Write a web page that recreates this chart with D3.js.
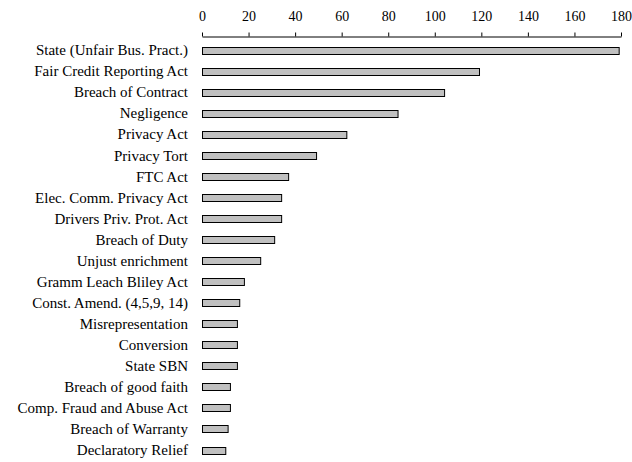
<!DOCTYPE html>
<html>
<head>
<meta charset="utf-8">
<script src="https://cdn.jsdelivr.net/npm/d3@7"></script>
<style>
  body { margin: 0; background: #fff; }
  text { font-family: "Liberation Serif", "Times New Roman", serif; font-size: 15px; fill: #000; }
</style>
</head>
<body>
<div id="chart"></div>
<script>
// claims, largest first
var categories = [
    "State (Unfair Bus. Pract.)", "Fair Credit Reporting Act", "Breach of Contract",
    "Negligence", "Privacy Act", "Privacy Tort", "FTC Act", "Elec. Comm. Privacy Act",
    "Drivers Priv. Prot. Act", "Breach of Duty", "Unjust enrichment", "Gramm Leach Bliley Act",
    "Const. Amend. (4,5,9, 14)", "Misrepresentation", "Conversion", "State SBN",
    "Breach of good faith", "Comp. Fraud and Abuse Act", "Breach of Warranty", "Declaratory Relief"
];
var counts = [179, 119, 104, 84, 62, 49, 37, 34, 34, 31, 25, 18, 16, 15, 15, 15, 12, 12, 11, 10];
var tickValues = [0, 20, 40, 60, 80, 100, 120, 140, 160, 180];

var width = 632, height = 462;
var axisY = 36;       // y of the top axis line
var barHeight = 7;

var svg = d3.select("#chart").append("svg")
    .attr("width", width)
    .attr("height", height);

var x = d3.scaleLinear().domain([0, 180]).range([202, 621]);
var y = d3.scalePoint().domain(categories).range([50, 450]);

// top axis
var axis = svg.append("g")
    .attr("transform", "translate(0," + (axisY + 0.5) + ")")
    .call(d3.axisTop(x).tickValues(tickValues).tickSize(4).tickSizeOuter(0).tickPadding(12));

axis.select(".domain").attr("stroke", "#000");
axis.selectAll(".tick line").attr("stroke", "#000");
axis.selectAll(".tick text")
    .style("font-family", "'Liberation Serif', serif")
    .style("font-size", "14px");

// bars
svg.selectAll(".bar")
    .data(counts)
  .enter().append("rect")
    .attr("class", "bar")
    .attr("x", x(0) + 0.5)
    .attr("y", function(d, i) { return Math.round(y(categories[i]) - barHeight / 2) + 0.5; })
    .attr("width", function(d) { return x(d) - x(0); })
    .attr("height", barHeight)
    .attr("fill", "#c0c0c0")
    .attr("stroke", "#000")
    .attr("stroke-width", 1);

// category labels
svg.selectAll(".label")
    .data(categories)
  .enter().append("text")
    .attr("class", "label")
    .attr("x", 188)
    .attr("y", function(d) { return y(d); })
    .attr("dy", "0.35em")
    .attr("text-anchor", "end")
    .text(function(d) { return d; });
</script>
</body>
</html>
